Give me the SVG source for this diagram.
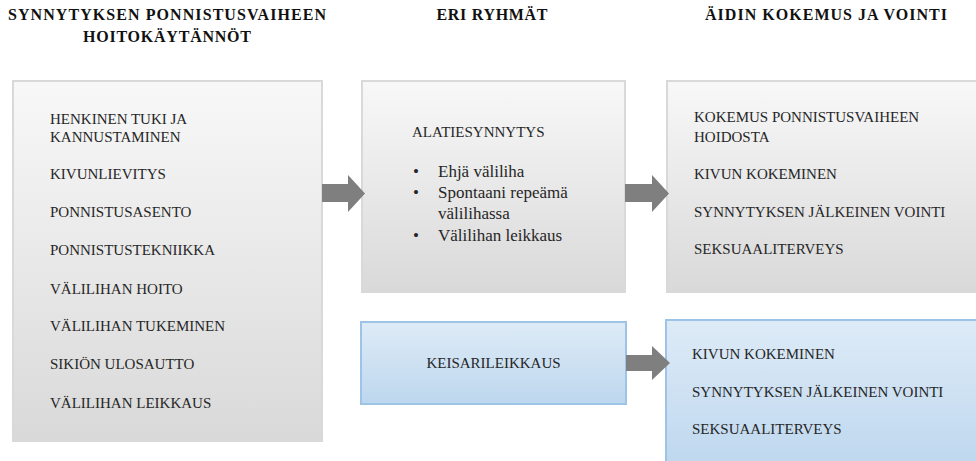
<svg xmlns="http://www.w3.org/2000/svg" width="976" height="461" viewBox="0 0 976 461">
<defs>
<linearGradient id="gGray" x1="0" y1="0" x2="0" y2="1">
<stop offset="0" stop-color="#f8f8f8"/>
<stop offset="1" stop-color="#d9d9d9"/>
</linearGradient>
<linearGradient id="gBlue" x1="0" y1="0" x2="0" y2="1">
<stop offset="0" stop-color="#deebf7"/>
<stop offset="1" stop-color="#bdd7ee"/>
</linearGradient>
</defs>
<style>
.hd{font-family:"Liberation Serif","Times New Roman",serif;font-weight:bold;font-size:16px;fill:#111}
.t{font-family:"Liberation Serif","Times New Roman",serif;font-size:15px;fill:#262626}
.b{font-family:"Liberation Serif","Times New Roman",serif;font-size:17px;fill:#262626}
.gray{fill:url(#gGray);stroke:#d9d9d9;stroke-width:2}
.blue{fill:url(#gBlue);stroke:#9dc3e6;stroke-width:2}
.arr{fill:#7f7f7f}
</style>
<rect width="976" height="461" fill="#ffffff"/>
<g id="headers">
<text class="hd" x="167" y="20" text-anchor="middle" textLength="318" lengthAdjust="spacing">SYNNYTYKSEN PONNISTUSVAIHEEN</text>
<text class="hd" x="167" y="42" text-anchor="middle" textLength="168" lengthAdjust="spacing">HOITOKÄYTÄNNÖT</text>
<text class="hd" x="492" y="20" text-anchor="middle" textLength="111" lengthAdjust="spacing">ERI RYHMÄT</text>
<text class="hd" x="705" y="20" textLength="242" lengthAdjust="spacing">ÄIDIN  KOKEMUS JA VOINTI</text>
</g>
<g id="node-hoito">
<rect class="gray" x="13" y="81" width="309" height="360"/>
<text class="t" x="50" y="124">HENKINEN  TUKI JA</text>
<text class="t" x="50" y="142">KANNUSTAMINEN</text>
<text class="t" x="50" y="179">KIVUNLIEVITYS</text>
<text class="t" x="50" y="217">PONNISTUSASENTO</text>
<text class="t" x="50" y="255">PONNISTUSTEKNIIKKA</text>
<text class="t" x="50" y="294">VÄLILIHAN  HOITO</text>
<text class="t" x="50" y="331">VÄLILIHAN  TUKEMINEN</text>
<text class="t" x="50" y="369">SIKIÖN ULOSAUTTO</text>
<text class="t" x="50" y="408">VÄLILIHAN  LEIKKAUS</text>
</g>
<g id="node-alatie">
<rect class="gray" x="362" y="81" width="263" height="211"/>
<text class="t" x="412" y="137">ALATIESYNNYTYS</text>
<text class="b" x="413" y="177">•</text>
<text class="b" x="438" y="177">Ehjä väliliha</text>
<text class="b" x="413" y="198">•</text>
<text class="b" x="438" y="198">Spontaani  repeämä</text>
<text class="b" x="438" y="219">välilihassa</text>
<text class="b" x="413" y="241">•</text>
<text class="b" x="438" y="241">Välilihan  leikkaus</text>
</g>
<g id="node-kokemus">
<rect class="gray" x="667" y="81" width="320" height="211"/>
<text class="t" x="694" y="122">KOKEMUS PONNISTUSVAIHEEN</text>
<text class="t" x="694" y="142">HOIDOSTA</text>
<text class="t" x="694" y="179">KIVUN KOKEMINEN</text>
<text class="t" x="694" y="217">SYNNYTYKSEN JÄLKEINEN  VOINTI</text>
<text class="t" x="694" y="254">SEKSUAALITERVEYS</text>
</g>
<g id="node-keisari">
<rect class="blue" x="361" y="322" width="265" height="82"/>
<text class="t" x="493.5" y="368" text-anchor="middle">KEISARILEIKKAUS</text>
</g>
<g id="node-keisari-kokemus">
<rect class="blue" x="666" y="320" width="320" height="150"/>
<text class="t" x="692" y="359">KIVUN KOKEMINEN</text>
<text class="t" x="692" y="397">SYNNYTYKSEN JÄLKEINEN VOINTI</text>
<text class="t" x="692" y="434">SEKSUAALITERVEYS</text>
</g>
<g id="connectors">
<polygon class="arr" points="322,184 348,184 348,175 365,193.5 348,212 348,202 322,202"/>
<polygon class="arr" points="625,184 652,184 652,175 669,193.5 652,212 652,202 625,202"/>
<polygon class="arr" points="626,355 652,355 652,346 670,363 652,380 652,371 626,371"/>
</g>
</svg>
